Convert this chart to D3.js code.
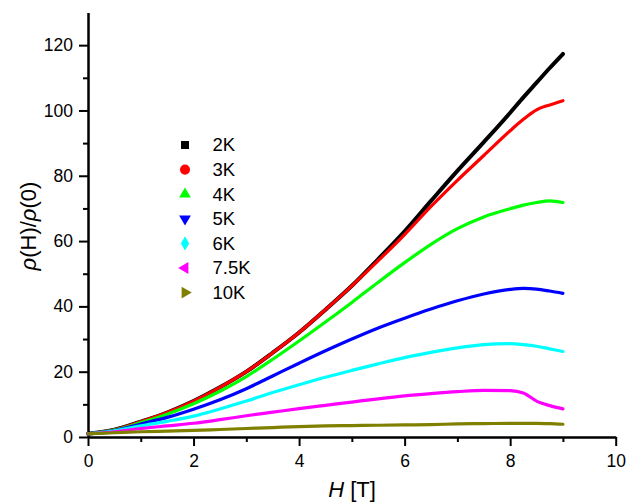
<!DOCTYPE html>
<html>
<head>
<meta charset="utf-8">
<script src="https://cdn.jsdelivr.net/npm/d3@7"></script>
<style>
body { margin: 0; background: #fff; }
text { font-family: Arial, "Liberation Sans", sans-serif; fill: #000; }
</style>
</head>
<body>
<svg width="636" height="502"></svg>
<script>
// field values (T)
var field = [0, 0.5, 1, 1.5, 2, 2.5, 3, 3.5, 4, 4.5, 5, 5.5, 6, 6.5, 7, 7.5, 8, 8.25, 8.5, 8.75, 9];

// rho(H)/rho(0) for each temperature
var r2K  = [1, 2.2, 4.7, 7.5, 11.0, 15.2, 20.0, 25.8, 32.0, 39.0, 46.3, 54.5, 63.0, 72.3, 81.5, 90.3, 99.3, 104.0, 108.5, 113.0, 117.3];
var r3K  = [1, 2.2, 4.7, 7.5, 11.0, 15.2, 20.0, 25.8, 32.0, 39.0, 46.3, 54.0, 62.0, 70.6, 78.6, 86.2, 93.8, 97.3, 100.2, 101.7, 103.0];
var r4K  = [1, 2.1, 4.4, 7.0, 10.2, 14.0, 18.5, 23.8, 29.4, 35.2, 41.2, 47.4, 53.4, 59.0, 63.8, 67.4, 69.9, 71.0, 71.8, 72.3, 71.8];
var r5K  = [1, 2.0, 4.0, 6.0, 8.5, 11.4, 14.8, 18.7, 22.6, 26.4, 30.0, 33.4, 36.4, 39.2, 41.7, 43.8, 45.2, 45.5, 45.3, 44.7, 44.0];
var r6K  = [1, 1.9, 3.4, 4.8, 6.4, 8.6, 11.0, 13.6, 16.0, 18.3, 20.4, 22.4, 24.3, 25.9, 27.3, 28.3, 28.6, 28.3, 27.8, 27.0, 26.2];
var r75K = [1, 1.6, 2.6, 3.4, 4.2, 5.3, 6.5, 7.6, 8.7, 9.7, 10.7, 11.7, 12.6, 13.3, 13.9, 14.3, 14.2, 13.5, 11.0, 9.6, 8.6];
var r10K = [1, 1.3, 1.6, 1.8, 2.0, 2.3, 2.6, 2.9, 3.2, 3.4, 3.5, 3.6, 3.7, 3.8, 4.0, 4.1, 4.2, 4.2, 4.2, 4.1, 3.9];

var labels = ["2K", "3K", "4K", "5K", "6K", "7.5K", "10K"];
var colors = ["#000000", "#ff0000", "#00ff00", "#0000ff", "#00ffff", "#ff00ff", "#808000"];
var xTicks = [0, 2, 4, 6, 8, 10];
var yTicks = [0, 20, 40, 60, 80, 100, 120];

var series = [r2K, r3K, r4K, r5K, r6K, r75K, r10K];

var svg = d3.select("svg");
var xScale = d3.scaleLinear().domain([0, 10]).range([88, 615.7]);
var yScale = d3.scaleLinear().domain([0, 130]).range([437, 12.5]);

// minor ticks first, majors on top
svg.append("g").attr("transform", "translate(0,437)")
  .call(d3.axisBottom(xScale).tickValues(d3.range(1, 10, 2)).tickSize(5).tickSizeOuter(0).tickFormat(""));
svg.append("g").attr("transform", "translate(88,0)")
  .call(d3.axisLeft(yScale).tickValues(d3.range(10, 130, 20)).tickSize(5).tickSizeOuter(0).tickFormat(""));

var xAxis = d3.axisBottom(xScale).tickValues(xTicks).tickSize(9).tickSizeOuter(0).tickPadding(9);
svg.append("g").attr("id", "xAxisG").attr("transform", "translate(0,437)").call(xAxis);
var yAxis = d3.axisLeft(yScale).tickValues(yTicks).tickSize(9).tickSizeOuter(0).tickPadding(6);
svg.append("g").attr("id", "yAxisG").attr("transform", "translate(88,0)").call(yAxis);

svg.selectAll(".domain").attr("stroke", "#000").attr("stroke-width", 2);
svg.selectAll(".tick line").attr("stroke", "#000").attr("stroke-width", 2);
svg.selectAll(".tick text").style("font-size", "17.5px").attr("fill", "#000");

// curves
var line = d3.line()
  .x(function(d){ return xScale(d[0]) })
  .y(function(d){ return yScale(d[1]) })
  .curve(d3.curveMonotoneX);

svg.append("g").attr("id", "linesG")
  .selectAll("path")
  .data(series)
  .enter()
  .append("path")
  .attr("d", function(s){ return line(s.map(function(v, i){ return [field[i], v] })) })
  .attr("fill", "none")
  .attr("stroke", function(s, i){ return colors[i] })
  .attr("stroke-width", function(s, i){ return i == 0 ? 4 : 3.2 })
  .attr("stroke-linejoin", "round")
  .attr("stroke-linecap", "round");

// legend
var shapes = [d3.symbolSquare, d3.symbolCircle, d3.symbolTriangle, d3.symbolTriangle, d3.symbolDiamond, d3.symbolTriangle, d3.symbolTriangle];
var rotations = [0, 0, 0, 180, 0, -90, 90];
var sizes = [64, 80, 60, 60, 60, 60, 60];

var legendG = svg.append("g").attr("id", "legendG")
  .selectAll("g")
  .data(labels)
  .enter()
  .append("g")
  .attr("transform", function(d, i){ return "translate(185," + (145 + i * 24.6) + ")" });

legendG.append("path")
  .attr("d", function(d, i){ return d3.symbol().type(shapes[i]).size(sizes[i])() })
  .attr("transform", function(d, i){ return "rotate(" + rotations[i] + ")" })
  .attr("fill", function(d, i){ return colors[i] });

legendG.append("text")
  .attr("x", 27.5)
  .attr("y", 6.4)
  .style("font-size", "18.5px")
  .text(function(d){ return d });

// axis titles
var yTitle = svg.append("text")
  .attr("transform", "translate(36,226) rotate(-90)")
  .attr("text-anchor", "middle")
  .style("font-size", "22px");
yTitle.append("tspan").style("font-style", "italic").text("ρ");
yTitle.append("tspan").text("(H)/");
yTitle.append("tspan").style("font-style", "italic").text("ρ");
yTitle.append("tspan").text("(0)");

var xTitle = svg.append("text")
  .attr("x", 352)
  .attr("y", 497)
  .attr("text-anchor", "middle")
  .style("font-size", "22px");
xTitle.append("tspan").style("font-style", "italic").text("H");
xTitle.append("tspan").text(" [T]");
</script>
</body>
</html>
